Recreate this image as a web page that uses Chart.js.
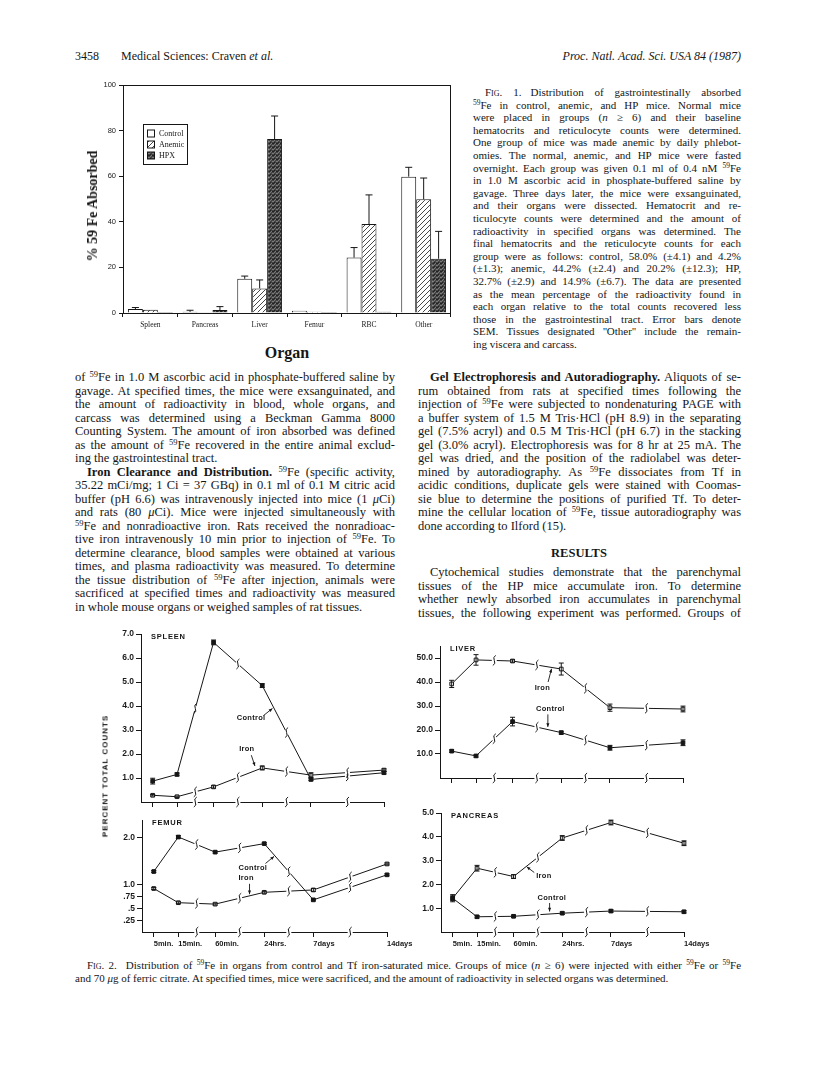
<!DOCTYPE html>
<html>
<head>
<meta charset="utf-8">
<title>Craven et al. 1987, Figs. 1 and 2</title>
<script src="https://cdn.jsdelivr.net/npm/chart.js@4.4.1/dist/chart.umd.min.js"></script>
<style>
  html, body { margin: 0; padding: 0; background: #fff; }
  body { width: 816px; height: 1071px; position: relative; overflow: hidden;
         font-family: "Liberation Serif", "Times New Roman", serif; color: #161616; }
  canvas { position: absolute; }
  .t { position: absolute; white-space: nowrap; }
  .hdr { font-size: 12px; top: 49px; }
  .col { position: absolute; font-size: 12.5px; line-height: 13.5px; }
  .cap { position: absolute; font-size: 11px; line-height: 12.6px; }
  .col > div, .cap > div { white-space: nowrap; }
  .ind { padding-left: 12px; }
  .sp { font-size: 0.68em; vertical-align: 0.5em; line-height: 0; }
  .sc { font-variant: small-caps; }
  .gap { display: inline-block; width: 9px; }
  .ytitle { position: absolute; font-weight: bold; font-size: 14px; transform: translate(-50%, -50%) rotate(-90deg); white-space: nowrap; }
  .ptc { position: absolute; font-family: "Liberation Sans", Arial, sans-serif; font-weight: bold; font-size: 8px;
         letter-spacing: 1px; transform: translate(-50%, -50%) rotate(-90deg); white-space: nowrap; }
</style>
</head>
<body>

<div class="t hdr" style="left:75px;">3458</div>
<div class="t hdr" style="left:121px;">Medical Sciences: Craven <i>et al.</i></div>
<div class="t hdr" style="right:75px;"><i>Proc. Natl. Acad. Sci. USA 84 (1987)</i></div>

<!-- Fig. 1 -->
<canvas id="fig1"></canvas>
<div class="ytitle" style="left:93px; top:206px;">% 59 Fe Absorbed</div>
<div class="t" style="left:287px; top:353px; transform:translate(-50%,-50%); font-weight:bold; font-size:16px;">Organ</div>

<div class="cap" style="left:473px; top:86px; width:268px;">
<div class="jl ind"><span><span class="sc">Fig. 1.</span><span class="gap"></span>Distribution of gastrointestinally absorbed</span></div>
<div class="jl"><span><span class="sp">59</span>Fe in control, anemic, and HP mice. Normal mice</span></div>
<div class="jl"><span>were placed in groups (<i>n</i> ≥ 6) and their baseline</span></div>
<div class="jl"><span>hematocrits and reticulocyte counts were determined.</span></div>
<div class="jl"><span>One group of mice was made anemic by daily phlebot-</span></div>
<div class="jl"><span>omies. The normal, anemic, and HP mice were fasted</span></div>
<div class="jl"><span>overnight. Each group was given 0.1 ml of 0.4 nM <span class="sp">59</span>Fe</span></div>
<div class="jl"><span>in 1.0 M ascorbic acid in phosphate-buffered saline by</span></div>
<div class="jl"><span>gavage. Three days later, the mice were exsanguinated,</span></div>
<div class="jl"><span>and their organs were dissected. Hematocrit and re-</span></div>
<div class="jl"><span>ticulocyte counts were determined and the amount of</span></div>
<div class="jl"><span>radioactivity in specified organs was determined. The</span></div>
<div class="jl"><span>final hematocrits and the reticulocyte counts for each</span></div>
<div class="jl"><span>group were as follows: control, 58.0% (±4.1) and 4.2%</span></div>
<div class="jl"><span>(±1.3); anemic, 44.2% (±2.4) and 20.2% (±12.3); HP,</span></div>
<div class="jl"><span>32.7% (±2.9) and 14.9% (±6.7). The data are presented</span></div>
<div class="jl"><span>as the mean percentage of the radioactivity found in</span></div>
<div class="jl"><span>each organ relative to the total counts recovered less</span></div>
<div class="jl"><span>those in the gastrointestinal tract. Error bars denote</span></div>
<div class="jl"><span>SEM. Tissues designated ''Other'' include the remain-</span></div>
<div><span>ing viscera and carcass.</span></div>
</div>

<!-- body text, left column -->
<div class="col" style="left:75px; top:371px; width:320px;">
<div class="jl"><span>of <span class="sp">59</span>Fe in 1.0 M ascorbic acid in phosphate-buffered saline by</span></div>
<div class="jl"><span>gavage. At specified times, the mice were exsanguinated, and</span></div>
<div class="jl"><span>the amount of radioactivity in blood, whole organs, and</span></div>
<div class="jl"><span>carcass was determined using a Beckman Gamma 8000</span></div>
<div class="jl"><span>Counting System. The amount of iron absorbed was defined</span></div>
<div class="jl"><span>as the amount of <span class="sp">59</span>Fe recovered in the entire animal exclud-</span></div>
<div><span>ing the gastrointestinal tract.</span></div>
<div class="jl ind"><span><b>Iron Clearance and Distribution.</b> <span class="sp">59</span>Fe (specific activity,</span></div>
<div class="jl"><span>35.22 mCi/mg; 1 Ci = 37 GBq) in 0.1 ml of 0.1 M citric acid</span></div>
<div class="jl"><span>buffer (pH 6.6) was intravenously injected into mice (1 <i>μ</i>Ci)</span></div>
<div class="jl"><span>and rats (80 <i>μ</i>Ci). Mice were injected simultaneously with</span></div>
<div class="jl"><span><span class="sp">59</span>Fe and nonradioactive iron. Rats received the nonradioac-</span></div>
<div class="jl"><span>tive iron intravenously 10 min prior to injection of <span class="sp">59</span>Fe. To</span></div>
<div class="jl"><span>determine clearance, blood samples were obtained at various</span></div>
<div class="jl"><span>times, and plasma radioactivity was measured. To determine</span></div>
<div class="jl"><span>the tissue distribution of <span class="sp">59</span>Fe after injection, animals were</span></div>
<div class="jl"><span>sacrificed at specified times and radioactivity was measured</span></div>
<div><span>in whole mouse organs or weighed samples of rat tissues.</span></div>
</div>

<!-- body text, right column -->
<div class="col" style="left:418px; top:371px; width:323px;">
<div class="jl ind"><span><b>Gel Electrophoresis and Autoradiography.</b> Aliquots of se-</span></div>
<div class="jl"><span>rum obtained from rats at specified times following the</span></div>
<div class="jl"><span>injection of <span class="sp">59</span>Fe were subjected to nondenaturing PAGE with</span></div>
<div class="jl"><span>a buffer system of 1.5 M Tris·HCl (pH 8.9) in the separating</span></div>
<div class="jl"><span>gel (7.5% acryl) and 0.5 M Tris·HCl (pH 6.7) in the stacking</span></div>
<div class="jl"><span>gel (3.0% acryl). Electrophoresis was for 8 hr at 25 mA. The</span></div>
<div class="jl"><span>gel was dried, and the position of the radiolabel was deter-</span></div>
<div class="jl"><span>mined by autoradiography. As <span class="sp">59</span>Fe dissociates from Tf in</span></div>
<div class="jl"><span>acidic conditions, duplicate gels were stained with Coomas-</span></div>
<div class="jl"><span>sie blue to determine the positions of purified Tf. To deter-</span></div>
<div class="jl"><span>mine the cellular location of <span class="sp">59</span>Fe, tissue autoradiography was</span></div>
<div><span>done according to Ilford (15).</span></div>
</div>
<div class="t" style="left:579px; top:553px; transform:translate(-50%,-50%); font-weight:bold; font-size:12.5px;">RESULTS</div>
<div class="col" style="left:418px; top:566px; width:323px;">
<div class="jl ind"><span>Cytochemical studies demonstrate that the parenchymal</span></div>
<div class="jl"><span>tissues of the HP mice accumulate iron. To determine</span></div>
<div class="jl"><span>whether newly absorbed iron accumulates in parenchymal</span></div>
<div class="jl"><span>tissues, the following experiment was performed. Groups of</span></div>
</div>

<!-- Fig. 2 -->
<canvas id="spleen"></canvas>
<canvas id="femur"></canvas>
<canvas id="liver"></canvas>
<canvas id="pancreas"></canvas>
<div class="ptc" style="left:105px; top:776px;">PERCENT TOTAL COUNTS</div>

<div class="cap" style="left:75px; top:959px; width:666px;">
<div class="jl ind"><span><span class="sc">Fig. 2.</span><span class="gap"></span>Distribution of <span class="sp">59</span>Fe in organs from control and Tf iron-saturated mice. Groups of mice (<i>n</i> ≥ 6) were injected with either <span class="sp">59</span>Fe or <span class="sp">59</span>Fe</span></div>
<div><span>and 70 <i>μ</i>g of ferric citrate. At specified times, mice were sacrificed, and the amount of radioactivity in selected organs was determined.</span></div>
</div>

<script>
// ---- Fig. 1: % of absorbed 59Fe found in each organ (mean, SEM) ----
const organs = ['Spleen', 'Pancreas', 'Liver', 'Femur', 'RBC', 'Other'];
const controlAbsorbed = [1.7, 0.5, 15.0, 1.0, 24.3, 59.8];
const controlAbsorbedSem = [0.7, 0.7, 1.2, 0, 4.4, 4.1];
const anemicAbsorbed = [1.4, 0.3, 10.8, 0.6, 39.0, 49.9];
const anemicAbsorbedSem = [0, 0, 3.7, 0, 12.8, 9.3];
const hpxAbsorbed = [0.4, 1.3, 76.3, 0.4, 0.6, 23.8];
const hpxAbsorbedSem = [0, 1.5, 10.1, 0, 0, 12.0];
const absorbedTicks = [0, 20, 40, 60, 80, 100];

// ---- Fig. 2: percent total counts over time ----
const timeLabels = ['5min.', '15min.', '60min.', '24hrs.', '7days', '14days'];
const timeAxisPos = [0, 1, 2.5, 4.5, 6.5, 9.5];   // places on the broken time axis
const axisBreaks = [1.75, 3.5, 5.5, 8];

const spleenControl = [0.87, 1.15, 6.65, 4.85, 0.94, 1.22];
const spleenControlErr = [0.12, 0.06, 0.1, 0.08, 0.05, 0.05];
const spleenIron = [0.28, 0.22, 0.63, 1.42, 1.12, 1.33];
const spleenIronErr = [0.03, 0.03, 0.05, 0.08, 0.1, 0.05];
const spleenTicks = [1, 2, 3, 4, 5, 6, 7];
const spleenTickLabels = ['1.0', '2.0', '3.0', '4.0', '5.0', '6.0', '7.0'];

const femurControl = [1.28, 2.01, 1.69, 1.87, 0.68, 1.21];
const femurControlErr = [0.02, 0.03, 0.02, 0.02, 0.02, 0.02];
const femurIron = [0.92, 0.62, 0.59, 0.84, 0.89, 1.44];
const femurIronErr = [0.02, 0.02, 0.02, 0.02, 0.03, 0.02];
const femurTicks = [0.25, 0.5, 0.75, 1, 2];
const femurTickLabels = ['.25', '.5', '.75', '1.0', '2.0'];

const liverControl = [11.2, 9.2, 23.5, 18.9, 12.6, 14.7];
const liverControlErr = [0.5, 0.5, 1.8, 0.6, 1.0, 1.2];
const liverIron = [39.2, 49.2, 48.75, 45.4, 29.3, 28.75];
const liverIronErr = [1.5, 2.2, 0.5, 2.5, 1.5, 1.2];
const liverTicks = [10, 20, 30, 40, 50];
const liverTickLabels = ['10.0', '20.0', '30.0', '40.0', '50.0'];

const pancreasControl = [1.42, 0.64, 0.66, 0.79, 0.88, 0.85];
const pancreasControlErr = [0.1, 0.05, 0.05, 0.05, 0.05, 0.05];
const pancreasIron = [1.42, 2.68, 2.33, 3.95, 4.6, 3.73];
const pancreasIronErr = [0.15, 0.12, 0.08, 0.1, 0.1, 0.1];
const pancreasTicks = [1, 2, 3, 4, 5];
const pancreasTickLabels = ['1.0', '2.0', '3.0', '4.0', '5.0'];

Chart.defaults.font.family = '"Liberation Sans", Arial, sans-serif';
Chart.defaults.color = '#1a1a1a';
Chart.defaults.animation = false;
Chart.defaults.plugins.legend.display = false;
Chart.defaults.plugins.tooltip.enabled = false;

const INK = '#161616';

// stretch each text line to its column width
function justifyLines() {
    document.querySelectorAll('.jl').forEach(line => {
        const box = line.parentElement.getBoundingClientRect().width;
        const ind = parseFloat(getComputedStyle(line).paddingLeft) || 0;
        const span = line.firstElementChild;
        const natural = span.getBoundingClientRect().width;
        const gaps = (span.textContent.trim().match(/ +/g) || []).length;
        if (gaps) span.style.wordSpacing = ((box - ind - natural) / gaps) + 'px';
    });
}

// size a canvas so its chart area lands on the given box
function place(id, area, m) {
    const cv = document.getElementById(id);
    cv.width = Math.round(area.right - area.left + m.yw + m.pr);
    cv.height = Math.round(area.bottom - area.top + m.pt + m.xh);
    cv.style.left = (area.left - m.yw) + 'px';
    cv.style.top = (area.top - m.pt) + 'px';
    return cv;
}

function hatchPattern() {
    const c = document.createElement('canvas');
    c.width = 5; c.height = 5;
    const g = c.getContext('2d');
    g.fillStyle = '#fff'; g.fillRect(0, 0, 5, 5);
    g.strokeStyle = '#333'; g.lineWidth = 0.9;
    g.beginPath();
    g.moveTo(0, 5); g.lineTo(5, 0);
    g.moveTo(-1, 1); g.lineTo(1, -1);
    g.moveTo(4, 6); g.lineTo(6, 4);
    g.stroke();
    return g.createPattern(c, 'repeat');
}

function stipplePattern() {
    const c = document.createElement('canvas');
    c.width = 4; c.height = 4;
    const g = c.getContext('2d');
    g.fillStyle = '#444'; g.fillRect(0, 0, 4, 4);
    g.fillStyle = '#7a7a7a';
    [[0, 0], [2, 2], [3, 0], [1, 3]].forEach(([x, y]) => g.fillRect(x, y, 1, 1));
    g.fillStyle = '#222';
    [[1, 1], [3, 2], [0, 2]].forEach(([x, y]) => g.fillRect(x, y, 1, 1));
    return g.createPattern(c, 'repeat');
}

// error bars from dataset.errors (bars: upward only)
const errorBars = {
    id: 'errorBars',
    afterDatasetsDraw(chart) {
        const { ctx } = chart;
        const ys = chart.scales.y;
        chart.data.datasets.forEach((ds, di) => {
            if (!ds.errors) return;
            const meta = chart.getDatasetMeta(di);
            meta.data.forEach((el, i) => {
                const e = ds.errors[i];
                if (!e) return;
                const v = typeof ds.data[i] === 'object' ? ds.data[i].y : ds.data[i];
                const x = el.x;
                const top = ys.getPixelForValue(v + e);
                const bot = ds.errorUpOnly ? el.y : ys.getPixelForValue(v - e);
                const cap = ds.errorUpOnly ? 3.5 : 2.5;
                ctx.save();
                ctx.strokeStyle = INK;
                ctx.lineWidth = 1;
                ctx.beginPath();
                ctx.moveTo(x, bot); ctx.lineTo(x, top);
                ctx.moveTo(x - cap, top); ctx.lineTo(x + cap, top);
                if (!ds.errorUpOnly) { ctx.moveTo(x - cap, bot); ctx.lineTo(x + cap, bot); }
                ctx.stroke();
                ctx.restore();
            });
        });
    }
};

// ---------------- Fig. 1 ----------------
const fig1Frame = {
    id: 'fig1Frame',
    afterDraw(chart) {
        const { ctx, chartArea: a } = chart;
        ctx.save();
        ctx.strokeStyle = INK; ctx.lineWidth = 1;
        ctx.strokeRect(a.left + 0.5, a.top + 0.5, a.right - a.left - 1, a.bottom - a.top);
        // legend box
        const bx = a.left + 20, by = a.top + 39;
        ctx.fillStyle = '#fff';
        ctx.fillRect(bx, by, 44, 40);
        ctx.strokeRect(bx + 0.5, by + 0.5, 44, 40);
        ctx.font = '8px "Liberation Serif", serif';
        ctx.textBaseline = 'middle';
        chart.data.datasets.forEach((ds, i) => {
            const ry = by + 9.5 + i * 11;
            ctx.fillStyle = ds.backgroundColor;
            ctx.fillRect(bx + 4, ry - 3.5, 7, 7);
            ctx.strokeRect(bx + 4.5, ry - 3.5, 7, 7);
            ctx.fillStyle = INK;
            ctx.fillText(ds.label, bx + 16, ry);
        });
        ctx.restore();
    }
};

const fig1Area = { left: 123, top: 85, right: 451, bottom: 313 };
place('fig1', fig1Area, { yw: 30, xh: 22, pt: 8, pr: 4 });

new Chart(document.getElementById('fig1'), {
    type: 'bar',
    data: {
        labels: organs,
        datasets: [
            { label: 'Control', data: controlAbsorbed, errors: controlAbsorbedSem, errorUpOnly: true, backgroundColor: '#fff' },
            { label: 'Anemic', data: anemicAbsorbed, errors: anemicAbsorbedSem, errorUpOnly: true, backgroundColor: hatchPattern() },
            { label: 'HPX', data: hpxAbsorbed, errors: hpxAbsorbedSem, errorUpOnly: true, backgroundColor: stipplePattern() }
        ].map(ds => Object.assign(ds, { borderColor: INK, borderWidth: 1, categoryPercentage: 0.82, barPercentage: 1.0 }))
    },
    options: {
        responsive: false,
        layout: { padding: { top: 8, right: 4, left: 0, bottom: 0 } },
        scales: {
            x: {
                afterFit: s => { s.height = 22; },
                grid: { offset: true, drawOnChartArea: false, tickLength: 4, color: INK },
                border: { display: false },
                ticks: { font: { family: '"Liberation Serif", serif', size: 7.5 }, padding: 4 }
            },
            y: {
                min: 0, max: 100,
                afterFit: s => { s.width = 30; },
                afterBuildTicks: s => { s.ticks = absorbedTicks.map(v => ({ value: v })); },
                grid: { drawOnChartArea: false, tickLength: 4, color: INK },
                border: { display: false },
                ticks: { font: { size: 7.5 }, padding: 3 }
            }
        }
    },
    plugins: [errorBars, fig1Frame]
});

// ---------------- Fig. 2 ----------------
function squiggle(ctx, x, y, dx, dy) {
    // white gap along the line, then a small brace mark
    const len = Math.hypot(dx, dy) || 1;
    const ux = dx / len, uy = dy / len;
    ctx.save();
    ctx.strokeStyle = '#fff';
    ctx.lineWidth = 3;
    ctx.beginPath();
    ctx.moveTo(x - ux * 2.5, y - uy * 2.5);
    ctx.lineTo(x + ux * 2.5, y + uy * 2.5);
    ctx.stroke();
    ctx.strokeStyle = INK;
    ctx.lineWidth = 1;
    ctx.beginPath();
    ctx.moveTo(x + 1.5, y - 5);
    ctx.quadraticCurveTo(x - 1.8, y - 3.5, x, y);
    ctx.quadraticCurveTo(x + 1.8, y + 3.5, x - 1.5, y + 5);
    ctx.stroke();
    ctx.restore();
}

const panelDecor = {
    id: 'panelDecor',
    afterDraw(chart) {
        const { ctx, chartArea: a } = chart;
        const xs = chart.scales.x, ys = chart.scales.y;
        const opts = chart.options.plugins.panelDecor;

        // breaks on the data lines (every segment after 15 min)
        chart.data.datasets.forEach((ds, di) => {
            const pts = chart.getDatasetMeta(di).data;
            for (let i = 1; i + 1 < pts.length; i++) {
                const p = pts[i], q = pts[i + 1];
                squiggle(ctx, (p.x + q.x) / 2, (p.y + q.y) / 2, q.x - p.x, q.y - p.y);
            }
        });
        // breaks on the time axis
        axisBreaks.forEach(b => squiggle(ctx, xs.getPixelForValue(b), a.bottom, 1, 0));

        ctx.save();
        ctx.fillStyle = INK;
        ctx.textBaseline = 'middle';
        ctx.font = 'bold 7.5px "Liberation Sans", Arial, sans-serif';
        if ('letterSpacing' in ctx) ctx.letterSpacing = '0.8px';
        ctx.fillText(opts.title, a.left + 10, a.top + 3);
        if ('letterSpacing' in ctx) ctx.letterSpacing = '0.3px';

        // labels with arrows
        ctx.strokeStyle = INK;
        ctx.lineWidth = 0.9;
        opts.notes.forEach(n => {
            ctx.fillText(n.text, xs.getPixelForValue(n.x), ys.getPixelForValue(n.y));
            const fx = xs.getPixelForValue(n.fromX), fy = ys.getPixelForValue(n.fromY);
            const tx = xs.getPixelForValue(n.toX), ty = ys.getPixelForValue(n.toY);
            ctx.beginPath(); ctx.moveTo(fx, fy); ctx.lineTo(tx, ty); ctx.stroke();
            const ang = Math.atan2(ty - fy, tx - fx);
            ctx.beginPath();
            ctx.moveTo(tx, ty);
            ctx.lineTo(tx - 4 * Math.cos(ang - 0.4), ty - 4 * Math.sin(ang - 0.4));
            ctx.lineTo(tx - 4 * Math.cos(ang + 0.4), ty - 4 * Math.sin(ang + 0.4));
            ctx.closePath(); ctx.fill();
        });
        ctx.restore();
    }
};

function series(vals) {
    return vals.map((v, i) => ({ x: timeAxisPos[i], y: v }));
}

function panel(id, area, cfg) {
    const m = { yw: 48, xh: cfg.showTime ? 20 : 8, pt: 10, pr: cfg.showTime ? 30 : 6 };
    place(id, area, m);
    new Chart(document.getElementById(id), {
        type: 'line',
        data: {
            datasets: [
                { label: 'Control', data: series(cfg.control), errors: cfg.controlErr,
                  borderColor: INK, borderWidth: 1, pointStyle: 'rect', pointRadius: 2.6,
                  pointBackgroundColor: INK, pointBorderColor: INK, pointBorderWidth: 1 },
                { label: 'Iron', data: series(cfg.iron), errors: cfg.ironErr,
                  borderColor: INK, borderWidth: 1, pointStyle: 'rect', pointRadius: 2.6,
                  pointBackgroundColor: '#fff', pointBorderColor: INK, pointBorderWidth: 1 }
            ].map(ds => Object.assign(ds, { tension: 0, fill: false }))
        },
        options: {
            responsive: false,
            clip: false,
            layout: { padding: { top: m.pt, right: m.pr, left: 0, bottom: 0 } },
            plugins: { panelDecor: { title: cfg.title, notes: cfg.notes } },
            scales: {
                x: {
                    type: 'linear', min: -0.48, max: 9.5,
                    afterFit: s => { s.height = m.xh; },
                    afterBuildTicks: s => { s.ticks = timeAxisPos.map(v => ({ value: v })); },
                    grid: { drawOnChartArea: false, tickLength: 5, color: INK },
                    border: { display: true, color: INK },
                    ticks: {
                        autoSkip: false, maxRotation: 0, align: 'start', padding: 2,
                        font: { size: 7.5, weight: 'bold' },
                        callback: (v, i) => cfg.showTime ? timeLabels[i] : ''
                    }
                },
                y: {
                    min: 0, max: cfg.yMax,
                    afterFit: s => { s.width = m.yw; },
                    afterBuildTicks: s => { s.ticks = cfg.ticks.map(v => ({ value: v })); },
                    grid: { drawOnChartArea: false, tickLength: 5, color: INK },
                    border: { display: true, color: INK },
                    ticks: { font: { size: 8.5, weight: 'bold' }, padding: 2,
                             callback: (v, i) => cfg.tickLabels[i] }
                }
            }
        },
        plugins: [errorBars, panelDecor]
    });
}

panel('spleen', { left: 140.7, top: 634, right: 384, bottom: 802 }, {
    title: 'SPLEEN', yMax: 7, ticks: spleenTicks, tickLabels: spleenTickLabels, showTime: false,
    control: spleenControl, controlErr: spleenControlErr, iron: spleenIron, ironErr: spleenIronErr,
    notes: [
        { text: 'Control', x: 3.45, y: 3.5, fromX: 4.55, fromY: 3.6, toX: 4.92, toY: 3.9 },
        { text: 'Iron', x: 3.55, y: 2.2, fromX: 4.05, fromY: 1.95, toX: 4.2, toY: 1.5 }
    ]
});

panel('femur', { left: 141.5, top: 820, right: 386, bottom: 932 }, {
    title: 'FEMUR', yMax: 2.37, ticks: femurTicks, tickLabels: femurTickLabels, showTime: true,
    control: femurControl, controlErr: femurControlErr, iron: femurIron, ironErr: femurIronErr,
    notes: [
        { text: 'Control', x: 3.45, y: 1.36, fromX: 4.55, fromY: 1.45, toX: 4.9, toY: 1.6 },
        { text: 'Iron', x: 3.45, y: 1.15, fromX: 3.9, fromY: 1.02, toX: 3.9, toY: 0.8 }
    ]
});

panel('liver', { left: 440, top: 646.4, right: 683.3, bottom: 777.9 }, {
    title: 'LIVER', yMax: 55, ticks: liverTicks, tickLabels: liverTickLabels, showTime: false,
    control: liverControl, controlErr: liverControlErr, iron: liverIron, ironErr: liverIronErr,
    notes: [
        { text: 'Iron', x: 3.41, y: 37.6, fromX: 3.96, fromY: 40.0, toX: 4.1, toY: 45.5 },
        { text: 'Control', x: 3.46, y: 28.8, fromX: 3.95, fromY: 26.5, toX: 3.95, toY: 21.3 }
    ]
});

panel('pancreas', { left: 440.7, top: 813.3, right: 684, bottom: 932 }, {
    title: 'PANCREAS', yMax: 5, ticks: pancreasTicks, tickLabels: pancreasTickLabels, showTime: true,
    control: pancreasControl, controlErr: pancreasControlErr, iron: pancreasIron, ironErr: pancreasIronErr,
    notes: [
        { text: 'Iron', x: 3.43, y: 2.37, fromX: 3.35, fromY: 2.5, toX: 3.04, toY: 2.74 },
        { text: 'Control', x: 3.48, y: 1.42, fromX: 3.98, fromY: 1.22, toX: 3.98, toY: 0.86 }
    ]
});

justifyLines();
</script>
</body>
</html>
